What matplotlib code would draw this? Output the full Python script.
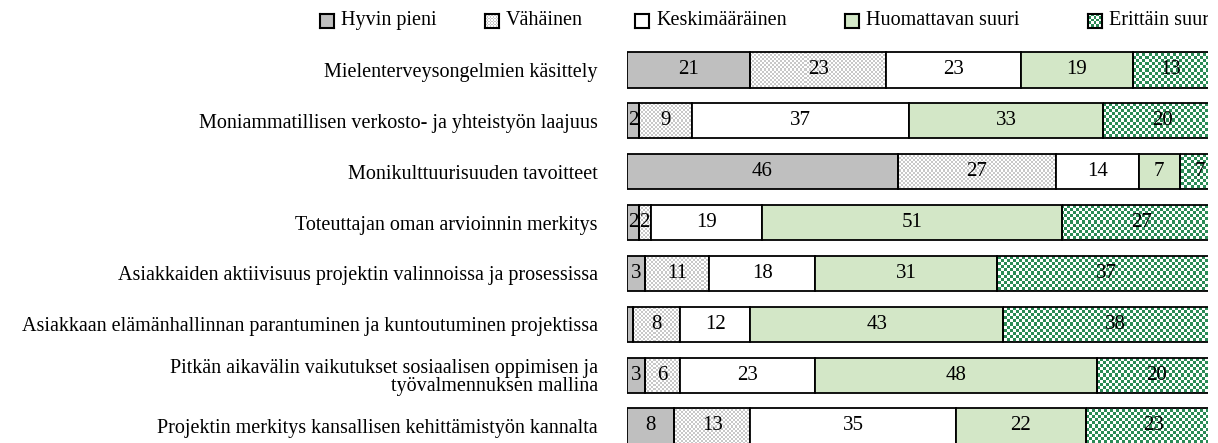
import numpy as np
import matplotlib
matplotlib.use('Agg')
import matplotlib.pyplot as plt
from matplotlib.patches import Rectangle

# data
categories = [
    'Mielenterveysongelmien käsittely',
    'Moniammatillisen verkosto- ja yhteistyön laajuus',
    'Monikulttuurisuuden tavoitteet',
    'Toteuttajan oman arvioinnin merkitys',
    'Asiakkaiden aktiivisuus projektin valinnoissa ja prosessissa',
    'Asiakkaan elämänhallinnan parantuminen ja kuntoutuminen projektissa',
    'Pitkän aikavälin vaikutukset sosiaalisen oppimisen ja\ntyövalmennuksen mallina',
    'Projektin merkitys kansallisen kehittämistyön kannalta',
]
levels = ['Hyvin pieni', 'Vähäinen', 'Keskimääräinen', 'Huomattavan suuri', 'Erittäin suuri']
hyvin_pieni = [21, 2, 46, 2, 3, 1, 3, 8]
vahainen = [23, 9, 27, 2, 11, 8, 6, 13]
keskimaarainen = [23, 37, 14, 19, 18, 12, 23, 35]
huomattavan_suuri = [19, 33, 7, 51, 31, 43, 48, 22]
erittain_suuri = [13, 20, 7, 27, 37, 38, 20, 23]
series = [hyvin_pieni, vahainen, keskimaarainen, huomattavan_suuri, erittain_suuri]

# style
W, H = 1218, 443
FONT = 'Liberation Serif'
FS = 14.5
FS_BAR = 15
GRAY = '#bfbfbf'
LGREEN = '#d3e7c7'
DGREEN = '#2a8a55'
CHECK_GRAY = '#c8c8c8'


def checker(nx, ny, color):
    rgb = np.array(matplotlib.colors.to_rgb(color))
    mask = (np.add.outer(np.arange(ny), np.arange(nx)) % 2).astype(bool)
    img = np.ones((ny, nx, 3))
    img[mask] = rgb
    return img


# fill per level: (facecolor, checker colour, checker cell px)
fills = [(GRAY, None, 0), ('white', CHECK_GRAY, 2), ('white', None, 0),
         (LGREEN, None, 0), ('white', DGREEN, 3)]

fig = plt.figure(figsize=(W / 100, H / 100), dpi=100)
ax_l, ax_r = 627, 1208
row_top, row_bot = 70, 426
sp = (row_bot - row_top) / 7
y_top = row_top - sp / 2
y_bot = row_bot + sp / 2
ax = fig.add_axes([ax_l / W, (H - y_bot) / H, (ax_r - ax_l) / W, (y_bot - y_top) / H])
ax_wpx, ax_hpx = ax_r - ax_l, y_bot - y_top

y = np.arange(len(categories))
left = np.zeros(len(categories))
for vals, (fc, cc, cell) in zip(series, fills):
    vals = np.array(vals, dtype=float)
    bars = ax.barh(y, vals, left=left, height=0.69,
                   color=fc if cc is None else 'none',
                   edgecolor='black', linewidth=1.3, zorder=3)
    if cc is not None:
        img = checker(int(ax_wpx / cell) + 1, int(ax_hpx / cell) + 1, cc)
        for b in bars:
            im = ax.imshow(img, extent=(0, 1, 0, 1), transform=ax.transAxes,
                           interpolation='nearest', aspect='auto', zorder=2)
            im.set_clip_path(b)
    for yi, l, v in zip(y, left, vals):
        if v >= 2:
            ax.text(l + v / 2, yi, f'{v:.0f}', ha='center', va='center',
                    fontsize=FS_BAR, family=FONT, zorder=4)
    left += vals

ax.set_xlim(0, 98.8)
ax.set_ylim(len(categories) - 0.5, -0.5)
ax.set_yticks(y)
ax.set_yticklabels(categories, family=FONT, fontsize=FS, linespacing=0.95)
ax.tick_params(axis='y', length=0, pad=21)
ax.set_xticks([])
for s in ax.spines.values():
    s.set_visible(False)

# legend drawn by hand (squares + text) so checker fills can be shown
leg_sq = [320, 485, 635, 845, 1088]
leg_y = 20.5
sq = 14
for x0, name, (fc, cc, cell) in zip(leg_sq, levels, fills):
    lax = fig.add_axes([x0 / W, (H - leg_y - sq / 2) / H, sq / W, sq / H])
    lax.set_xticks([])
    lax.set_yticks([])
    lax.set_facecolor(fc)
    if cc is not None:
        n = max(int(sq / max(cell - 0.5, 1)), 2)
        lax.imshow(checker(n, n, cc), extent=(0, 1, 0, 1), aspect='auto',
                   interpolation='nearest')
    for s in lax.spines.values():
        s.set_linewidth(1.5)
    fig.text((x0 + sq + 7) / W, (H - leg_y) / H, name, ha='left', va='center',
             fontsize=FS, family=FONT)

# picture is cut off at the right edge
fig.add_artist(Rectangle((ax_r / W, 0), 1, 1, transform=fig.transFigure,
                         facecolor='white', edgecolor='none', zorder=100))

fig.savefig('out.png', dpi=100)
